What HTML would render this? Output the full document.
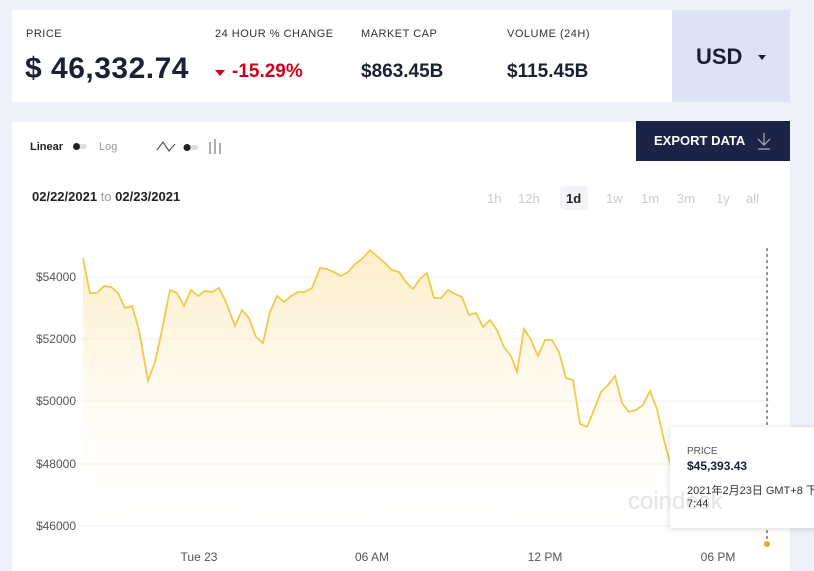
<!DOCTYPE html>
<html><head><style>
body{margin:0;width:814px;height:571px;background:#eef1f8;font-family:"Liberation Sans","Noto Sans CJK SC",sans-serif;position:relative;overflow:hidden}
.card{position:absolute;background:#fff}
.lbl{position:absolute;font-size:11px;color:#333;letter-spacing:.5px}
.val{position:absolute;font-size:20px;font-weight:bold;color:#1b2133}
</style></head><body>
<div class="card" style="left:12px;top:10px;width:660px;height:92px"></div>
<div style="position:absolute;left:672px;top:10px;width:118px;height:92px;background:#dde3f3"></div>
<div style="position:absolute;left:696px;top:44px;font-size:22px;font-weight:bold;color:#1b2133">USD</div>
<div style="position:absolute;left:758px;top:55px;border:4px solid transparent;border-top:5px solid #1b2133"></div>
<div class="lbl" style="left:26px;top:28px">PRICE</div>
<div class="lbl" style="left:215px;top:28px">24 HOUR % CHANGE</div>
<div class="lbl" style="left:361px;top:28px">MARKET CAP</div>
<div class="lbl" style="left:507px;top:28px">VOLUME (24H)</div>
<div class="val" style="left:25px;top:52px;font-size:30px;letter-spacing:.5px">$ 46,332.74</div>
<div style="position:absolute;left:215px;top:70px;border:5px solid transparent;border-top:6px solid #d0021b"></div>
<div class="val" style="left:232px;top:61px;color:#d0021b;font-size:19px">-15.29%</div>
<div class="val" style="left:361px;top:61px;font-size:19px">$863.45B</div>
<div class="val" style="left:507px;top:61px;font-size:19px">$115.45B</div>

<div class="card" style="left:12px;top:122px;width:778px;height:449px"></div>
<div style="position:absolute;left:636px;top:121px;width:154px;height:40px;background:#1b2346;color:#fff;font-size:13px;font-weight:bold;line-height:40px;padding-left:18px;box-sizing:border-box">EXPORT DATA</div>
<svg style="position:absolute;left:755px;top:131px" width="20" height="20"><path d="M9 2v12M3 8l6 6 6-6M3 18h12" fill="none" stroke="#aab" stroke-width="1.2"/></svg>
<div style="position:absolute;left:30px;top:141px;font-size:11px;font-weight:bold;color:#222">Linear</div>
<div style="position:absolute;left:73px;top:144px;width:14px;height:5px;border-radius:3px;background:#ddd"></div>
<div style="position:absolute;left:73px;top:143px;width:7px;height:7px;border-radius:4px;background:#222"></div>
<div style="position:absolute;left:99px;top:141px;font-size:11px;color:#999">Log</div>
<svg style="position:absolute;left:155px;top:138px" width="70" height="18"><polyline points="2,12 8,4 14,13 20,6" fill="none" stroke="#555" stroke-width="1.2"/><rect x="29" y="7" width="14" height="5" rx="2.5" fill="#ddd"/><circle cx="32" cy="9.5" r="3.5" fill="#222"/><path d="M55 4v12M60 1v15M65 5v11" stroke="#999" stroke-width="1.6"/></svg>
<div style="position:absolute;left:32px;top:189px;font-size:13px;font-weight:bold;color:#222">02/22/2021 <span style="color:#999;font-weight:normal">to</span> 02/23/2021</div>
<div style="position:absolute;left:487px;top:191px;font-size:13px;color:#ccc">1h</div>
<div style="position:absolute;left:518px;top:191px;font-size:13px;color:#ccc">12h</div>
<div style="position:absolute;left:560px;top:186px;width:28px;height:24px;background:#f3f4f8;border-radius:4px"></div>
<div style="position:absolute;left:566px;top:191px;font-size:13px;color:#222;font-weight:bold">1d</div>
<div style="position:absolute;left:606px;top:191px;font-size:13px;color:#ccc">1w</div>
<div style="position:absolute;left:641px;top:191px;font-size:13px;color:#ccc">1m</div>
<div style="position:absolute;left:677px;top:191px;font-size:13px;color:#ccc">3m</div>
<div style="position:absolute;left:716px;top:191px;font-size:13px;color:#ccc">1y</div>
<div style="position:absolute;left:746px;top:191px;font-size:13px;color:#ccc">all</div>

<svg style="position:absolute;left:0;top:0" width="814" height="571">
<defs><linearGradient id="g" x1="0" y1="0" x2="0" y2="1"><stop offset="0" stop-color="#fde9b8" stop-opacity=".8"/><stop offset="1" stop-color="#fff" stop-opacity="0"/></linearGradient></defs>
<g stroke="#f0f0f0"><line x1="80" x2="770" y1="277" y2="277"/><line x1="80" x2="770" y1="339" y2="339"/><line x1="80" x2="770" y1="401" y2="401"/><line x1="80" x2="770" y1="464" y2="464"/><line x1="80" x2="770" y1="526" y2="526"/></g>
<g font-size="12" fill="#555" text-anchor="end"><text x="76" y="281">$54000</text><text x="76" y="343">$52000</text><text x="76" y="405">$50000</text><text x="76" y="468">$48000</text><text x="76" y="530">$46000</text></g>
<g font-size="12" fill="#555" text-anchor="middle"><text x="199" y="561">Tue 23</text><text x="372" y="561">06 AM</text><text x="545" y="561">12 PM</text><text x="718" y="561">06 PM</text></g>
<polygon fill="url(#g)" points="83,258 90,293 97,293 104,286 111,287 118,293 125,308 132,306 139,330 148,381 155,362 162,330 170,290 177,293 184,306 191,290 198,296 205,291 212,292 219,288 226,302 235,326 242,310 249,318 256,337 263,343 270,312 277,296 284,302 291,296 298,292 305,292 312,288 320,268 327,269 334,272 341,276 348,272 355,264 362,259 370,250 378,257 385,263 392,270 399,272 406,282 413,289 420,279 427,273 434,298 441,298 448,290 455,294 462,297 469,315 476,313 483,327 490,320 497,330 504,347 511,356 517,372 524,329 531,340 538,356 545,340 552,340 559,352 566,378 573,380 580,424 587,427 594,410 601,392 608,385 615,376 622,403 629,412 636,410 643,405 650,391 657,409 664,440 672,470 690,500 720,525 767,545 767,545 83,545"/>
<polyline fill="none" stroke="#f2c94c" stroke-width="1.8" points="83,258 90,293 97,293 104,286 111,287 118,293 125,308 132,306 139,330 148,381 155,362 162,330 170,290 177,293 184,306 191,290 198,296 205,291 212,292 219,288 226,302 235,326 242,310 249,318 256,337 263,343 270,312 277,296 284,302 291,296 298,292 305,292 312,288 320,268 327,269 334,272 341,276 348,272 355,264 362,259 370,250 378,257 385,263 392,270 399,272 406,282 413,289 420,279 427,273 434,298 441,298 448,290 455,294 462,297 469,315 476,313 483,327 490,320 497,330 504,347 511,356 517,372 524,329 531,340 538,356 545,340 552,340 559,352 566,378 573,380 580,424 587,427 594,410 601,392 608,385 615,376 622,403 629,412 636,410 643,405 650,391 657,409 664,440 672,470"/>
<line x1="767" x2="767" y1="248" y2="540" stroke="#333" stroke-dasharray="3,3"/>
<circle cx="767" cy="544" r="3" fill="#e0b020"/>
</svg>
<div style="position:absolute;left:790px;top:0;width:24px;height:571px;background:#eef1f8"></div>
<div style="position:absolute;left:670px;top:427px;width:150px;height:101px;background:#fff;box-shadow:0 1px 6px rgba(0,0,0,.15)"></div>
<div style="position:absolute;left:628px;top:488px;font-size:24px;color:#e4e4e4;z-index:0">coindesk</div>
<div style="position:absolute;left:687px;top:446px;font-size:10px;color:#555">PRICE</div>
<div style="position:absolute;left:687px;top:459px;font-size:12px;font-weight:bold;color:#1b2133">$45,393.43</div>
<div style="position:absolute;left:687px;top:485px;font-size:11px;color:#333;line-height:13px;white-space:nowrap">2021年2月23日 GMT+8 下<br>7:44</div>
</body></html>
